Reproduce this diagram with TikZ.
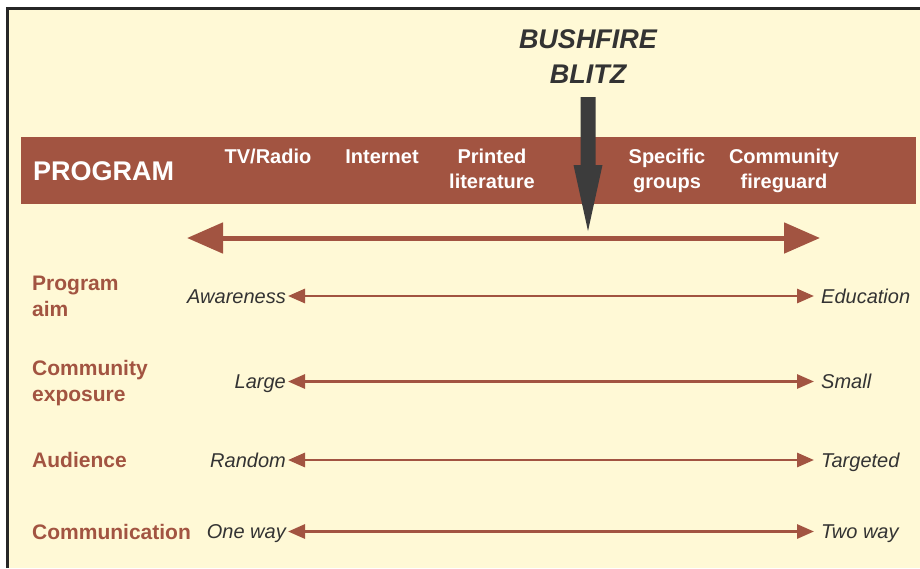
\documentclass[tikz,border=0pt]{standalone}
\usepackage{fontspec}
\setmainfont{Liberation Sans}
\usepackage{tikz}
\usetikzlibrary{arrows.meta}
\definecolor{bushYellow}{HTML}{FFF9D6}
\definecolor{bushBrown}{HTML}{A25441}
\definecolor{bushGrey}{HTML}{333333}
\definecolor{blitzGrey}{HTML}{3C3C3C}
\tikzstyle{nodoBar} = [text=white, font=\bfseries\fontsize{20}{25.5}\selectfont, align=center, anchor=base, inner sep=0pt]
\tikzstyle{nodoLabel} = [text=bushBrown, font=\bfseries\fontsize{21}{26}\selectfont, align=left, anchor=base west, inner sep=0pt]
\tikzstyle{nodoValL} = [text=bushGrey, font=\itshape\fontsize{20}{24}\selectfont, anchor=east, inner xsep=2pt, inner ysep=0pt, text height=14pt, text depth=0pt]
\tikzstyle{nodoValR} = [nodoValL, anchor=west, inner xsep=7pt]
\tikzstyle{flechaRow} = [draw=bushBrown, line width=2.9pt, {Triangle[length=17pt,width=14pt]}-{Triangle[length=17pt,width=14pt]}]
\tikzstyle{flechaBig} = [draw=bushBrown, line width=5pt, {Triangle[length=36pt,width=30pt]}-{Triangle[length=36pt,width=30pt]}]

\begin{document}
\begin{tikzpicture}[x=1pt, y=-1pt]
    \useasboundingbox (0,0) rectangle (920,568);
    \fill[bushYellow] (7,8) rectangle (920,568);
    \draw[line width=3pt, draw=black!85] (7,568) -- (7,8) -- (920,8);

    \node (Bar) [fill=bushBrown, inner sep=0pt, minimum width=895pt, minimum height=67pt] at (468.5,170.5) {};
    \node (Prog) [text=white, font=\bfseries\fontsize{27}{30}\selectfont, anchor=base west, inner sep=0pt] at (33,180) {PROGRAM};
    \node (TV) [nodoBar] at (268,163) {TV/Radio};
    \node (Net) [nodoBar] at (382,163) {Internet};
    \node (Print) [nodoBar] at (492,188.5) {Printed\\literature};
    \node (Spec) [nodoBar] at (667,188.5) {Specific\\groups};
    \node (Fire) [nodoBar] at (784,188.5) {Community\\fireguard};

    \node (Blitz) [text=bushGrey, font=\bfseries\itshape\fontsize{27}{35}\selectfont, align=center, anchor=base, inner sep=0pt] at (588,83) {BUSHFIRE\\BLITZ};
    \coordinate (BlitzTip) at (588,231);

    \coordinate (ScaleL) at (187,238);
    \coordinate (ScaleR) at (820,238);
    \draw[flechaBig] (ScaleL) -- (ScaleR);
    \fill[blitzGrey] (580.5,97) -- (595.5,97) -- (595.5,165) -- (602.5,165) -- (BlitzTip) -- (573.5,165) -- (580.5,165) -- cycle;

    \node (Aim) [nodoLabel] at (32,316) {Program\\aim};
    \node (AimL) [nodoValL] at (288,296) {Awareness};
    \node (AimR) [nodoValR] at (814,296) {Education};
    \draw[flechaRow] (AimL.east) -- (AimR.west);

    \node (Expo) [nodoLabel] at (32,401.5) {Community\\exposure};
    \node (ExpoL) [nodoValL] at (288,381.5) {Large};
    \node (ExpoR) [nodoValR] at (814,381.5) {Small};
    \draw[flechaRow] (ExpoL.east) -- (ExpoR.west);

    \node (Aud) [nodoLabel] at (32,467) {Audience};
    \node (AudL) [nodoValL] at (288,460) {Random};
    \node (AudR) [nodoValR] at (814,460) {Targeted};
    \draw[flechaRow] (AudL.east) -- (AudR.west);

    \node (Comm) [nodoLabel] at (32,539) {Communication};
    \node (CommL) [nodoValL] at (288,531.5) {One way};
    \node (CommR) [nodoValR] at (814,531.5) {Two way};
    \draw[flechaRow] (CommL.east) -- (CommR.west);
\end{tikzpicture}
\end{document}
